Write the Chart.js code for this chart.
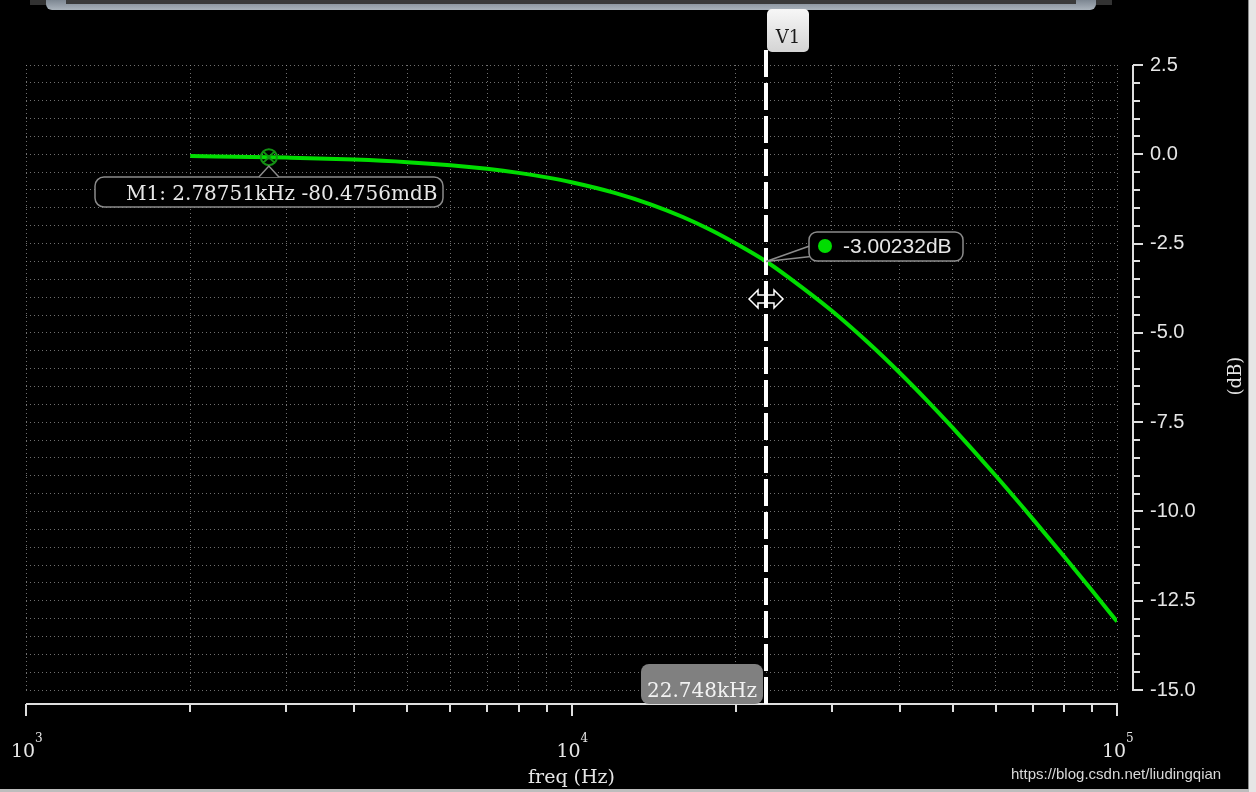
<!DOCTYPE html>
<html>
<head>
<meta charset="utf-8">
<script src="https://cdn.jsdelivr.net/npm/chart.js@4.4.0/dist/chart.umd.min.js"></script>
<style>
  html, body { margin: 0; padding: 0; background: #000; }
  canvas { display: block; }
</style>
</head>
<body>
<canvas id="bode" width="1256" height="792"></canvas>
<script>
// ---- data ----
const FREQ = [2000, 2787.51, 3000, 4000, 5000, 6000, 7000, 8000, 9000, 10000,
              12000, 14000, 16000, 18000, 20000, 22748, 25000, 30000, 35000, 40000,
              45000, 50000, 60000, 70000, 80000, 90000, 100000];
const GAIN = [-0.049, -0.0805, -0.091, -0.148, -0.220, -0.307, -0.408, -0.521, -0.646, -0.781,
              -1.079, -1.407, -1.756, -2.121, -2.496, -3.002, -3.447, -4.382, -5.278, -6.123,
              -6.917, -7.661, -9.009, -10.201, -11.262, -12.216, -13.081];

const X_GRID = [1000, 2000, 3000, 4000, 5000, 6000, 7000, 8000, 9000,
                10000, 20000, 30000, 40000, 50000, 60000, 70000, 80000, 90000, 100000];
const X_MAJOR = [1000, 10000, 100000];
const X_EXP = ['3', '4', '5'];
const Y_MIN = -15, Y_MAX = 2.5, Y_STEP = 0.5, Y_LABEL_STEP = 2.5;

const MARKER_FREQ = 2787.51, MARKER_GAIN = -0.0804756;
const MARKER_TEXT = 'M1: 2.78751kHz -80.4756mdB';
const CURSOR_FREQ = 22748, CURSOR_GAIN = -3.00232;
const CURSOR_GAIN_TEXT = '-3.00232dB';
const CURSOR_FREQ_TEXT = '22.748kHz';

const SERIF = '"DejaVu Serif", serif';
const SANS = '"Liberation Sans", Arial, sans-serif';

function rrect(ctx, x, y, w, h, r) {
    ctx.beginPath();
    ctx.moveTo(x + r, y);
    ctx.arcTo(x + w, y, x + w, y + h, r);
    ctx.arcTo(x + w, y + h, x, y + h, r);
    ctx.arcTo(x, y + h, x, y, r);
    ctx.arcTo(x, y, x + w, y, r);
    ctx.closePath();
}

/* ------------------------------------------------------------
   window frame + background
------------------------------------------------------------ */
const fondo = {
    id: 'fondo',
    beforeDraw(chart) {
        const ctx = chart.ctx;
        ctx.save();
        ctx.fillStyle = '#000';
        ctx.fillRect(0, 0, chart.width, chart.height);
        // top bar
        ctx.fillStyle = '#333';
        ctx.fillRect(30, 0, 1082, 5);
        const g = ctx.createLinearGradient(0, 0, 0, 10);
        g.addColorStop(0, '#7d8792');
        g.addColorStop(1, '#aab3bc');
        rrect(ctx, 46, -8, 1050, 18, 6);
        ctx.fillStyle = g;
        ctx.fill();
        ctx.fillStyle = '#3a3a3a';
        ctx.fillRect(66, 0, 1010, 4);
        // right and bottom edge
        ctx.fillStyle = '#e6e6e6';
        ctx.fillRect(1249, 0, 7, 792);
        ctx.fillStyle = '#8a8a8a';
        ctx.fillRect(1248, 0, 1, 792);
        ctx.fillStyle = '#bdbdbd';
        ctx.fillRect(0, 789, 1249, 3);
        ctx.restore();
    }
};

/* ------------------------------------------------------------
   axes, cursor, markers
------------------------------------------------------------ */
const extras = {
    id: 'extras',
    afterDatasetsDraw(chart) {
        const ctx = chart.ctx;
        const xs = chart.scales.x, ys = chart.scales.y, area = chart.chartArea;
        ctx.save();

        // bottom axis
        const axY = Math.round(area.bottom) + 14;
        ctx.strokeStyle = '#dedede';
        ctx.lineWidth = 2;
        ctx.beginPath();
        ctx.moveTo(area.left, axY);
        ctx.lineTo(area.right + 1, axY);
        X_GRID.forEach(v => {
            const px = Math.round(xs.getPixelForValue(v));
            const len = X_MAJOR.includes(v) ? 12 : 8;
            ctx.moveTo(px, axY);
            ctx.lineTo(px, axY + len);
        });
        ctx.stroke();

        // right axis
        const axX = Math.round(area.right) + 16;
        ctx.beginPath();
        ctx.moveTo(axX, area.top);
        ctx.lineTo(axX, area.bottom + 1);
        ys.ticks.forEach(t => {
            const py = Math.round(ys.getPixelForValue(t.value));
            ctx.moveTo(axX, py);
            ctx.lineTo(axX + (isLabel(t.value) ? 10 : 7), py);
        });
        ctx.stroke();

        // x labels 10^n
        ctx.fillStyle = '#e6e6e6';
        ctx.textBaseline = 'alphabetic';
        X_MAJOR.forEach((v, i) => {
            const px = xs.getPixelForValue(v);
            ctx.font = '19px ' + SERIF;
            ctx.textAlign = 'center';
            ctx.fillText('10', px - 3, axY + 53);
            ctx.font = '12px ' + SERIF;
            ctx.textAlign = 'left';
            ctx.fillText(X_EXP[i], px + 9, axY + 38);
        });

        // axis titles
        ctx.font = '19px ' + SERIF;
        ctx.textAlign = 'center';
        ctx.fillText('freq (Hz)', xs.getPixelForValue(10000), 783);
        ctx.save();
        ctx.translate(1236, 376);
        ctx.rotate(-Math.PI / 2);
        ctx.textBaseline = 'middle';
        ctx.font = '18px ' + SERIF;
        ctx.fillText('(dB)', 0, 0);
        ctx.restore();

        // vertical cursor
        const cx = Math.round(xs.getPixelForValue(CURSOR_FREQ));
        const cy = ys.getPixelForValue(CURSOR_GAIN);
        ctx.strokeStyle = '#ffffff';
        ctx.lineWidth = 4;
        ctx.setLineDash([27, 6]);
        ctx.beginPath();
        ctx.moveTo(cx, 50);
        ctx.lineTo(cx, axY);
        ctx.stroke();
        ctx.setLineDash([]);

        // V1 tab
        const tg = ctx.createLinearGradient(0, 9, 0, 52);
        tg.addColorStop(0, '#f7f7f7');
        tg.addColorStop(1, '#d4d4d4');
        rrect(ctx, cx + 1, 9, 42, 43, 5);
        ctx.fillStyle = tg;
        ctx.fill();
        ctx.fillStyle = '#1a1a1a';
        ctx.font = '18px ' + SERIF;
        ctx.textAlign = 'center';
        ctx.textBaseline = 'alphabetic';
        ctx.fillText('V1', cx + 22, 43);

        // frequency readout at bottom of cursor
        rrect(ctx, cx - 125, 664, 122, 40, 8);
        ctx.fillStyle = '#808080';
        ctx.fill();
        ctx.fillStyle = '#f2f2f2';
        ctx.font = '20px ' + SERIF;
        ctx.fillText(CURSOR_FREQ_TEXT, cx - 64, 697);

        // cursor/curve crossing readout
        ctx.strokeStyle = '#8c8c8c';
        ctx.lineWidth = 1.5;
        ctx.beginPath();
        ctx.moveTo(cx, cy);
        ctx.lineTo(cx + 45, cy - 16);
        ctx.moveTo(cx, cy);
        ctx.lineTo(cx + 45, cy - 5);
        ctx.stroke();
        rrect(ctx, cx + 43, 232, 154, 29, 8);
        ctx.fillStyle = '#000';
        ctx.fill();
        ctx.stroke();
        ctx.fillStyle = '#00dd00';
        ctx.beginPath();
        ctx.arc(cx + 59, 246, 7, 0, Math.PI * 2);
        ctx.fill();
        ctx.fillStyle = '#e6e6e6';
        ctx.font = '21px ' + SANS;
        ctx.textAlign = 'left';
        ctx.textBaseline = 'middle';
        ctx.fillText(CURSOR_GAIN_TEXT, cx + 77, 247);

        // drag arrow icon on the cursor
        ctx.beginPath();
        ctx.moveTo(cx - 17, 299);
        ctx.lineTo(cx - 8, 290);
        ctx.lineTo(cx - 8, 295);
        ctx.lineTo(cx + 8, 295);
        ctx.lineTo(cx + 8, 290);
        ctx.lineTo(cx + 17, 299);
        ctx.lineTo(cx + 8, 308);
        ctx.lineTo(cx + 8, 303);
        ctx.lineTo(cx - 8, 303);
        ctx.lineTo(cx - 8, 308);
        ctx.closePath();
        ctx.fillStyle = '#000';
        ctx.fill();
        ctx.strokeStyle = '#ffffff';
        ctx.lineWidth = 1.5;
        ctx.stroke();
        ctx.fillStyle = '#fff';
        ctx.fillRect(cx - 2, 293, 4, 13);

        // M1 marker
        const mx = xs.getPixelForValue(MARKER_FREQ);
        const my = ys.getPixelForValue(MARKER_GAIN);
        ctx.strokeStyle = '#139013';
        ctx.lineWidth = 2;
        ctx.beginPath();
        ctx.arc(mx, my, 8, 0, Math.PI * 2);
        ctx.moveTo(mx - 5.5, my - 5.5);
        ctx.lineTo(mx + 5.5, my + 5.5);
        ctx.moveTo(mx + 5.5, my - 5.5);
        ctx.lineTo(mx - 5.5, my + 5.5);
        ctx.stroke();

        // M1 label with pointer
        ctx.strokeStyle = '#8a8a8a';
        ctx.lineWidth = 1.5;
        rrect(ctx, 95, 177, 348, 30, 9);
        ctx.fillStyle = '#000';
        ctx.fill();
        ctx.stroke();
        ctx.beginPath();
        ctx.moveTo(mx - 10, 177);
        ctx.lineTo(mx, 166);
        ctx.lineTo(mx + 10, 177);
        ctx.fill();
        ctx.stroke();
        ctx.fillStyle = '#e8e8e8';
        ctx.font = '20px ' + SERIF;
        ctx.textAlign = 'left';
        ctx.textBaseline = 'alphabetic';
        ctx.fillText(MARKER_TEXT, 126, 200);

        // watermark
        ctx.font = '15px ' + SANS;
        ctx.fillStyle = '#d9d9d9';
        ctx.fillText('https://blog.csdn.net/liudingqian', 1011, 779);

        ctx.restore();
    }
};

const isLabel = v => Math.abs(v / Y_LABEL_STEP - Math.round(v / Y_LABEL_STEP)) < 1e-6;

new Chart(document.getElementById('bode'), {
    type: 'line',
    data: {
        datasets: [{
            data: FREQ.map((f, i) => ({ x: f, y: GAIN[i] })),
            borderColor: '#00dd00',
            borderWidth: 4,
            pointRadius: 0,
            cubicInterpolationMode: 'monotone',
            fill: false
        }]
    },
    options: {
        responsive: false,
        animation: false,
        devicePixelRatio: 1,
        layout: { padding: { left: 26, top: 65, right: 0, bottom: 0 } },
        plugins: { legend: { display: false }, tooltip: { enabled: false } },
        scales: {
            x: {
                type: 'logarithmic',
                min: 1000,
                max: 100000,
                afterBuildTicks: s => { s.ticks = X_GRID.map(v => ({ value: v })); },
                afterFit: s => { s.height = 102; },
                ticks: { display: false },
                grid: { color: 'rgba(150,150,150,0.75)', lineWidth: 1, drawTicks: false },
                border: { display: false, dash: [1, 3] }
            },
            y: {
                position: 'right',
                min: Y_MIN,
                max: Y_MAX,
                afterFit: s => { s.width = 139; },
                ticks: {
                    stepSize: Y_STEP,
                    autoSkip: false,
                    padding: 33,
                    color: '#e6e6e6',
                    font: { family: 'Liberation Sans', size: 20 },
                    callback: v => isLabel(v) ? v.toFixed(1) : ''
                },
                grid: { color: 'rgba(150,150,150,0.75)', lineWidth: 1, drawTicks: false },
                border: { display: false, dash: [1, 3] }
            }
        }
    },
    plugins: [fondo, extras]
});
</script>
</body>
</html>
